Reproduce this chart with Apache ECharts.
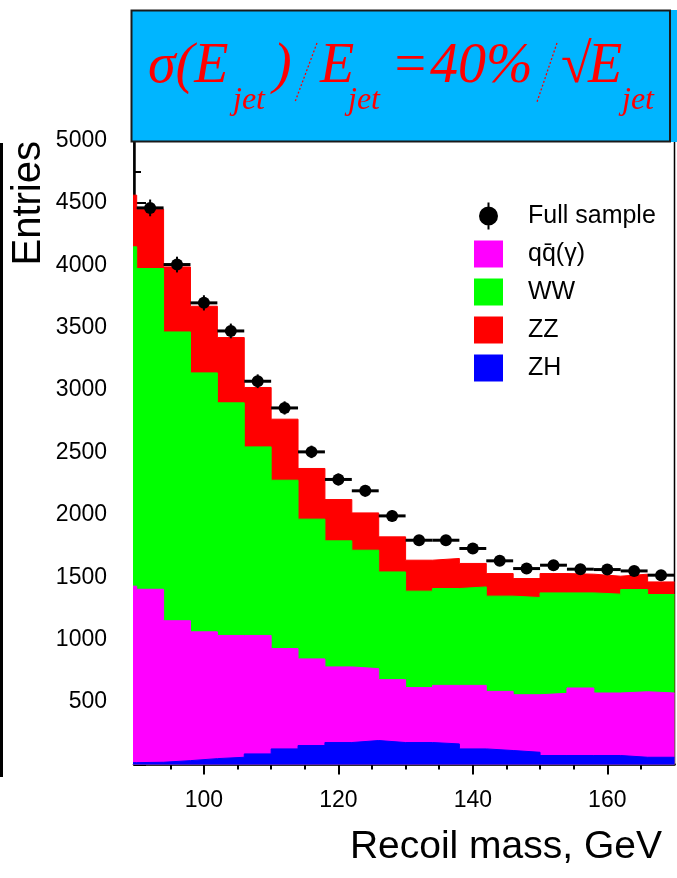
<!DOCTYPE html>
<html>
<head>
<meta charset="utf-8">
<script src="https://cdn.jsdelivr.net/npm/echarts@6/dist/echarts.min.js"></script>
<style>
  html, body { margin: 0; padding: 0; background: #fff; }
  #chart { width: 677px; height: 878px; }
</style>
</head>
<body>
<div id="chart"></div>
<script>
// Recoil mass spectrum: 4 GeV bins, lower bin edges in GeV
const binLow = [86, 90, 94, 98, 102, 106, 110, 114, 118, 122, 126, 130, 134, 138, 142, 146, 150, 154, 158, 162, 166];
const binWidth = 4;

// Simulated contributions per bin (entries)
const zh = [15, 18, 31, 47, 58, 85, 125, 152, 176, 192, 176, 176, 165, 125, 112, 98, 72, 72, 72, 58, 58];
const qq = [1414, 1386, 1121, 1016, 976, 949, 804, 694, 606, 576, 504, 440, 469, 509, 474, 461, 498, 541, 501, 525, 515];
const ww = [2719, 2570, 2314, 2075, 1864, 1511, 1349, 1120, 1010, 949, 863, 773, 776, 789, 763, 779, 805, 762, 792, 819, 789];
const zz = [414, 476, 521, 534, 523, 476, 489, 406, 331, 299, 281, 248, 241, 188, 181, 152, 155, 150, 144, 123, 101];

// Full sample counts and their errors
const fullSample = [null, 4460, 4006, 3699, 3474, 3071, 2857, 2505, 2284, 2193, 1992, 1797, 1797, 1731, 1632, 1570, 1597, 1565, 1562, 1551, 1517];
const fullErr = [null, 67, 63, 61, 59, 55, 53, 50, 48, 47, 45, 42, 42, 42, 40, 40, 40, 40, 40, 39, 39];

// Axis ticks
const xMajor = [100, 120, 140, 160];
const xMinor = [95, 105, 110, 115, 125, 130, 135, 145, 150, 155, 165];

const names = { data: 'Full sample', qq: 'qq\u0304(\u03b3)', ww: 'WW', zz: 'ZZ', zh: 'ZH' };
const colors = { qq: '#ff00ff', ww: '#00ff00', zz: '#ff0000', zh: '#0000ff' };

// Cumulative tops of the stack (ZH at the bottom, ZZ on top)
function cumulate(layers) {
  return binLow.map((_, i) => layers.reduce((s, l) => s + l[i], 0));
}
const topZH = cumulate([zh]);
const topQQ = cumulate([zh, qq]);
const topWW = cumulate([zh, qq, ww]);
const topZZ = cumulate([zh, qq, ww, zz]);

// Step outline: one point per lower edge plus the closing upper edge
function stepPoints(tops) {
  const pts = binLow.map((x, i) => [x, tops[i]]);
  const last = binLow.length - 1;
  pts.push([binLow[last] + binWidth, tops[last]]);
  return pts;
}

function histSeries(key, tops) {
  return {
    name: names[key],
    type: 'line',
    step: 'end',
    symbol: 'none',
    data: stepPoints(tops),
    color: colors[key],
    itemStyle: { color: colors[key] },
    lineStyle: { color: colors[key], width: 1 },
    areaStyle: { color: colors[key], opacity: 1 },
    silent: true,
    animation: false
  };
}

const pointData = [];
binLow.forEach((x, i) => {
  if (fullSample[i] != null) pointData.push([x + binWidth / 2, fullSample[i], fullErr[i]]);
});

const sansFont = 'Liberation Sans, Arial, Helvetica, sans-serif';
const serifFont = 'Liberation Serif, Times New Roman, serif';

const chart = echarts.init(document.getElementById('chart'), null, { renderer: 'canvas' });

// Title formula pieces
const mainSize = 56, subSize = 32;
const mainMid = 84 - 0.305 * mainSize;
const subMid = 110 - 0.305 * subSize;
function titleText(text, x, big) {
  return {
    type: 'text', x: x, y: big ? mainMid : subMid, z: 102,
    style: {
      text: text, fill: '#ff0000',
      font: 'italic ' + (big ? mainSize : subSize) + 'px ' + serifFont,
      align: 'left', verticalAlign: 'middle'
    }
  };
}
function titleSlash(x1, y1, x2, y2) {
  return {
    type: 'line', z: 102,
    shape: { x1: x1, y1: y1, x2: x2, y2: y2 },
    style: { stroke: '#ff0000', lineWidth: 1.3, lineDash: [2, 2] }
  };
}

const dataIcon = 'path://M13.5,0H15.5V27H13.5Z M5,13.5A9.5,9.5,0,1,1,24,13.5A9.5,9.5,0,1,1,5,13.5Z';

chart.setOption({
  animation: false,
  backgroundColor: '#ffffff',
  grid: {
    left: 134, top: 140.5, width: 540.5, height: 624,
    show: true, borderColor: '#000', borderWidth: 1.5, backgroundColor: '#fff'
  },
  legend: {
    orient: 'vertical',
    left: 474, top: 202.5,
    padding: 0,
    itemWidth: 29, itemHeight: 27, itemGap: 11,
    symbolKeepAspect: true,
    itemStyle: { borderWidth: 0 },
    textStyle: { fontFamily: sansFont, fontSize: 25, color: '#000', padding: [0, 0, 0, 20] },
    data: [
      { name: names.data, icon: dataIcon, itemStyle: { color: '#000' } },
      { name: names.qq, icon: 'rect' },
      { name: names.ww, icon: 'rect' },
      { name: names.zz, icon: 'rect' },
      { name: names.zh, icon: 'rect' }
    ],
    selectedMode: false
  },
  xAxis: [
    {
      type: 'value', min: 89.6, max: 170, position: 'bottom',
      axisLine: { show: true, lineStyle: { color: '#000', width: 2.5 } },
      axisTick: { show: true, inside: false, length: 10, customValues: xMajor, lineStyle: { color: '#000', width: 2 } },
      axisLabel: { customValues: xMajor, margin: 25, fontFamily: sansFont, fontSize: 23, color: '#000', formatter: v => String(v) },
      splitLine: { show: false }
    },
    {
      type: 'value', min: 89.6, max: 170, position: 'bottom',
      axisLine: { show: false },
      axisTick: { show: true, inside: false, length: 5, customValues: xMinor, lineStyle: { color: '#000', width: 2 } },
      axisLabel: { show: false },
      splitLine: { show: false }
    }
  ],
  yAxis: {
    type: 'value', min: 0, max: 5000, interval: 500,
    axisLine: { show: true, lineStyle: { color: '#000', width: 2.5 } },
    axisTick: { show: true, inside: true, length: 12, lineStyle: { color: '#000', width: 2 } },
    minorTick: { show: true, splitNumber: 2, length: 7, lineStyle: { color: '#000', width: 2 } },
    axisLabel: { showMinLabel: false, margin: 27, fontFamily: sansFont, fontSize: 23, color: '#000', formatter: v => String(v) },
    splitLine: { show: false }
  },
  series: [
    histSeries('zz', topZZ),
    histSeries('ww', topWW),
    histSeries('qq', topQQ),
    histSeries('zh', topZH),
    {
      name: names.data,
      type: 'custom',
      dimensions: ['x', 'y', 'err'],
      encode: { x: 0, y: 1 },
      data: pointData,
      itemStyle: { color: '#000' },
      z: 10,
      renderItem: function (params, api) {
        const xc = api.value(0), y = api.value(1), e = api.value(2);
        const l = api.coord([xc - binWidth / 2, y]);
        const r = api.coord([xc + binWidth / 2, y]);
        const lo = api.coord([xc, y - e]);
        const hi = api.coord([xc, y + e]);
        const c = api.coord([xc, y]);
        return {
          type: 'group',
          children: [
            { type: 'line', shape: { x1: l[0], y1: l[1], x2: r[0], y2: r[1] }, style: { stroke: '#000', lineWidth: 3 } },
            { type: 'line', shape: { x1: lo[0], y1: lo[1], x2: hi[0], y2: hi[1] }, style: { stroke: '#000', lineWidth: 2 } },
            { type: 'circle', shape: { cx: c[0], cy: c[1], r: 6 }, style: { fill: '#000' } }
          ]
        };
      }
    }
  ],
  graphic: [
    // title panel
    { type: 'rect', z: 100, shape: { x: 131, y: 10, width: 546, height: 132 }, style: { fill: '#00b5ff' } },
    { type: 'rect', z: 101, shape: { x: 131.5, y: 10.5, width: 538.5, height: 131 }, style: { fill: 'none', stroke: '#1a1a1a', lineWidth: 2 } },
    titleText('\u03c3(E', 148, true),
    titleText('jet', 233, false),
    titleText(')', 273, true),
    titleSlash(317, 43, 295, 102),
    titleText('E', 320, true),
    titleText('jet', 348, false),
    titleText('=', 391, true),
    titleText('40%', 430, true),
    titleSlash(557, 43, 537, 102),
    titleText('\u221a', 561, true),
    titleText('E', 588, true),
    titleText('jet', 622, false),
    // axis titles
    {
      type: 'text', x: 29.3, y: 203.3, rotation: Math.PI / 2, z: 50,
      style: { text: 'Entries', font: '40px ' + sansFont, fill: '#000', align: 'center', verticalAlign: 'middle' }
    },
    {
      type: 'text', x: 662, y: 859 - 0.31 * 39, z: 50,
      style: { text: 'Recoil mass, GeV', font: '39px ' + sansFont, fill: '#000', align: 'right', verticalAlign: 'middle' }
    },
    // edge of the neighbouring panel frame
    { type: 'line', z: 50, shape: { x1: 1.5, y1: 143, x2: 1.5, y2: 777 }, style: { stroke: '#000', lineWidth: 3 } }
  ]
});
</script>
</body>
</html>
